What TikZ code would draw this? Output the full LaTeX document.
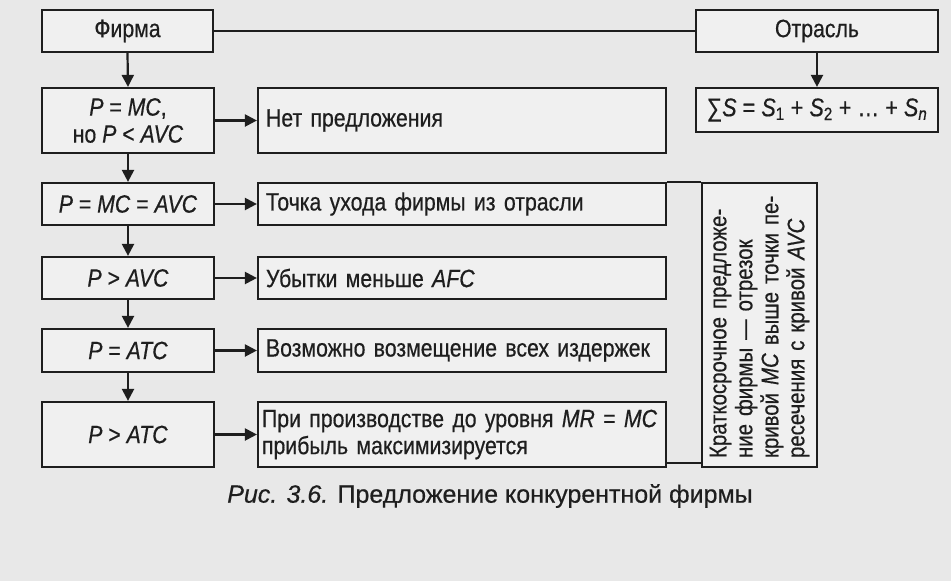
\documentclass[tikz,border=0pt]{standalone}
\usepackage{fontspec}
\setmainfont{Liberation Sans}[FakeStretch=0.85,FakeBold=0.5]
\newfontfamily\capfont{Liberation Sans}[FakeBold=0.5]
\usetikzlibrary{arrows.meta}
\definecolor{bg}{RGB}{232,232,232}
\definecolor{ink}{RGB}{30,30,30}
\definecolor{boxfill}{RGB}{240,240,240}
\begin{document}
\begin{tikzpicture}[x=1pt,y=-1pt,
  box/.style={draw=ink, line width=2.2pt, fill=boxfill, inner sep=0pt, text=ink,
    font=\fontsize{25}{27}\selectfont},
  lbox/.style={box, minimum width=172pt, align=center},
  rbox/.style={box, text width=392pt, inner xsep=8pt, align=left},
  arr/.style={draw=ink, line width=2.2pt, -{Triangle[length=12pt,width=12pt]}},
  ln/.style={draw=ink, line width=2.2pt}]
\useasboundingbox[fill=bg] (0,0) rectangle (951,581);

\node[lbox, minimum width=171pt, minimum height=42pt] (fir) at (127.5,31) {Фирма};
\node[box, minimum width=242pt, minimum height=42pt] (otr) at (817,31) {Отрасль};
\node[box, minimum width=242pt, minimum height=44pt, font=\fontsize{25.5}{28}\selectfont] (sum) at (817,110)
  {∑\textit{S} = \textit{S}\textsubscript{1} + \textit{S}\textsubscript{2} + … + \textit{S}\textsubscript{\textit{n}}};

\node[lbox, minimum height=65pt] (l1) at (128,120.5) {\textit{P} = \textit{MC},\\но \textit{P} < \textit{AVC}};
\node[lbox, minimum height=42pt] (l2) at (128,204) {\textit{P} = \textit{MC} = \textit{AVC}};
\node[lbox, minimum height=42pt] (l3) at (128,278) {\textit{P} > \textit{AVC}};
\node[lbox, minimum height=43pt] (l4) at (128,350.5) {\textit{P} = \textit{ATC}};
\node[lbox, minimum height=65pt] (l5) at (128,434.5) {\textit{P} > \textit{ATC}};

\node[rbox, minimum height=65pt] (r1) at (462,120.5) {Нет предложения};
\node[rbox, minimum height=42pt] (r2) at (462,204) {Точка ухода фирмы из отрасли};
\node[rbox, minimum height=42pt] (r3) at (462,278) {Убытки меньше \textit{AFC}};
\node[rbox, minimum height=43pt] (r4) at (462,350.5) {Возможно возмещение всех издержек};
\node[rbox, minimum height=65pt, text width=400pt, inner xsep=4pt] (r5) at (462,434.5)
  {\mbox{При производстве до уровня \textit{MR} = \textit{MC}}\\прибыль максимизируется};

\node[draw=ink, line width=2.2pt, fill=boxfill, text=ink, rotate=90,
  minimum width=284pt, minimum height=115pt, inner xsep=9pt, inner ysep=0pt,
  text width=266pt, align=left, font=\fontsize{24}{26}\selectfont] (vb) at (759.5,325)
  {Краткосрочное предложе-\\ние фирмы — отрезок\\кривой \textit{MC} выше точки пе-\\ресечения с кривой \textit{AVC}};

\draw[ln] (fir.east) -- (otr.west);
\draw[arr] (otr.south) -- (sum.north);
\draw[arr] (fir.south) -- (l1.north);
\draw[arr] (l1.south) -- (l2.north);
\draw[arr] (l2.south) -- (l3.north);
\draw[arr] (l3.south) -- (l4.north);
\draw[arr] (l4.south) -- (l5.north);
\draw[arr] (l1.east) -- (r1.west);
\draw[arr] (l2.east) -- (r2.west);
\draw[arr] (l3.east) -- (r3.west);
\draw[arr] (l4.east) -- (r4.west);
\draw[arr] (l5.east) -- (r5.west);
\draw[ln] (r2.north east) -- (r2.north east -| vb.north);
\draw[ln] (r5.south east) ++(0,-5) -- ++(36,0);

\node[text=ink, font=\capfont\fontsize{25}{27}\selectfont] (cap) at (490,496)
  {\textit{Рис. 3.6.} Предложение конкурентной фирмы};
\end{tikzpicture}
\end{document}
